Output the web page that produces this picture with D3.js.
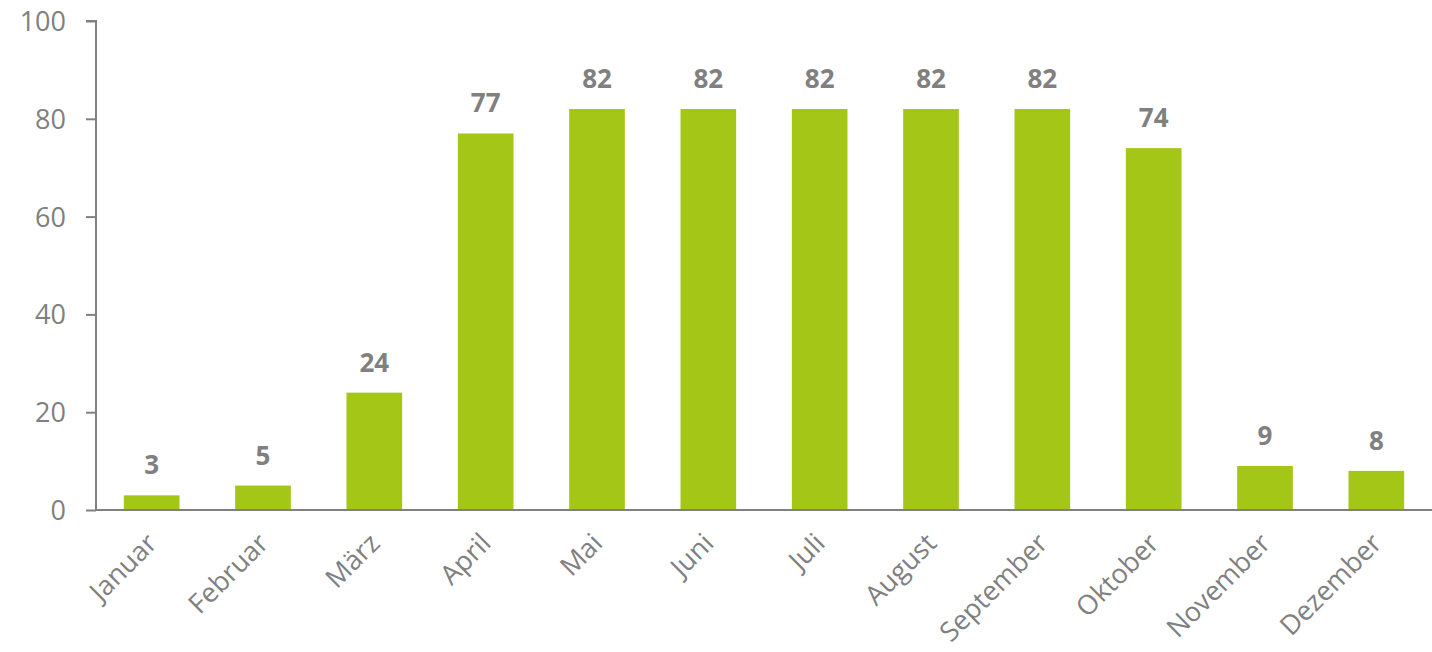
<!DOCTYPE html>
<html>
<head>
<meta charset="utf-8">
<script src="https://cdn.jsdelivr.net/npm/d3@7"></script>
<style>
  body { margin: 0; background: #fff; }
  svg text { font-family: "Open Sans", "Noto Sans", sans-serif; }
</style>
</head>
<body>
<div id="chart"></div>
<script>
let months = ['Januar','Februar','März','April','Mai','Juni','Juli','August','September','Oktober','November','Dezember'];
let values = [3, 5, 24, 77, 82, 82, 82, 82, 82, 74, 9, 8];
let yTicks = [0, 20, 40, 60, 80, 100];

let width = 1432;
let height = 652;
let gray = '#808080';
let green = '#a4c617';

let svg = d3.select("#chart").append("svg")
  .attr('width', width)
  .attr('height', height);

const x = d3.scaleBand()
  .domain(months)
  .range([96, 1432])
  .paddingInner(0.5)
  .paddingOuter(0.25);

const y = d3.scaleLinear()
  .domain([0, 100])
  .range([510, 21]);

// y axis
const yAxis = svg.append("g")
  .attr("transform", "translate(96,0)")
  .call(d3.axisLeft(y).tickValues(yTicks).tickSize(10).tickPadding(20));
yAxis.selectAll("path, line").attr("stroke", gray).attr("stroke-width", 2);
yAxis.select(".domain").attr("d", "M-10,21H0V510");
yAxis.selectAll("text")
  .attr("fill", gray)
  .attr("font-size", "27px")
  .attr("dy", "0.35em");

// bars
svg.append("g")
  .selectAll("rect")
  .data(values)
  .enter()
  .append("rect")
  .attr("x", (d, i) => x(months[i]))
  .attr("y", d => y(d))
  .attr("width", x.bandwidth())
  .attr("height", d => y(0) - y(d))
  .attr("fill", green);

// value labels
svg.append("g")
  .selectAll("text")
  .data(values)
  .enter()
  .append("text")
  .attr("x", (d, i) => x(months[i]) + x.bandwidth() / 2)
  .attr("y", d => y(d) - 21)
  .attr("text-anchor", "middle")
  .attr("font-size", "26px")
  .attr("font-weight", "bold")
  .attr("fill", gray)
  .text(d => d);

// x axis
const xAxis = svg.append("g")
  .attr("transform", "translate(0,510)")
  .call(d3.axisBottom(x).tickSize(0).tickPadding(0));
xAxis.select(".domain").attr("stroke", gray).attr("stroke-width", 2).attr("d", "M96,0H1432");
xAxis.selectAll("text")
  .attr("fill", gray)
  .attr("font-size", "27px")
  .attr("text-anchor", "end")
  .attr("dy", null)
  .attr("y", 0)
  .attr("transform", "translate(7,35) rotate(-45)");
</script>
</body>
</html>
